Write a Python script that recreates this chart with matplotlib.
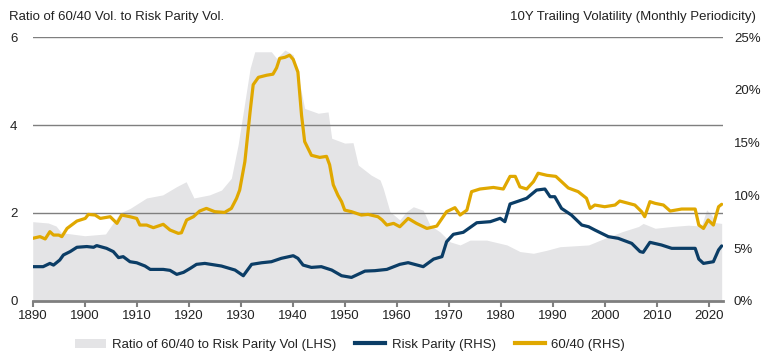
import matplotlib
matplotlib.use("Agg")
import matplotlib.pyplot as plt
from matplotlib.patches import Patch
from matplotlib.lines import Line2D

plt.rcParams["font.family"] = ["Liberation Sans", "DejaVu Sans"]

# Ratio of 60/40 vol to risk parity vol (LHS)
ratio_years = [1890, 1893, 1894.5, 1895.5, 1900, 1904, 1906.8, 1908.7, 1911.9, 1915, 1917.7,
               1919.5, 1921, 1924, 1926.3, 1928.2, 1929.5, 1930.8, 1931.8, 1932.7, 1935.9,
               1936.9, 1938.5, 1940.1, 1941, 1942.3, 1944.9, 1946.8, 1947.5, 1950, 1951.6,
               1952.6, 1955.1, 1956.8, 1957.4, 1958.7, 1960.6, 1961.9, 1963.2, 1965.1, 1966.4,
               1968.3, 1970.3, 1972.2, 1974.1, 1977.3, 1981.2, 1983.7, 1986.3, 1988.9, 1991.4,
               1996.9, 2000, 2003.3, 2006.5, 2007.4, 2009.7, 2012.9, 2016.1, 2018.6, 2019.6,
               2020.6, 2021.3, 2022.5]
ratio_vals = [1.80, 1.77, 1.70, 1.55, 1.48, 1.52, 2.00, 2.10, 2.34, 2.41, 2.60,
              2.71, 2.34, 2.41, 2.52, 2.79, 3.55, 4.53, 5.29, 5.67, 5.67,
              5.52, 5.71, 5.60, 5.14, 4.38, 4.27, 4.30, 3.70, 3.59, 3.60,
              3.09, 2.86, 2.75, 2.56, 2.03, 1.84, 2.03, 2.14, 2.06, 1.72,
              1.57, 1.34, 1.27, 1.38, 1.38, 1.27, 1.12, 1.08, 1.15, 1.23,
              1.27, 1.42, 1.57, 1.69, 1.76, 1.65, 1.69, 1.72, 1.70, 2.07,
              1.95, 1.78, 1.76]

# Risk parity trailing vol (RHS, %)
rp_years = [1890, 1892, 1893.3, 1894, 1895.2, 1895.9, 1897.2, 1898.5, 1900.4, 1901.7, 1902.3,
            1904.2, 1905.5, 1906.5, 1907.4, 1908.7, 1910, 1911.6, 1912.6, 1915.1, 1916.4,
            1917.7, 1919, 1920.3, 1921.5, 1923.1, 1926.3, 1928.9, 1930.5, 1932.1, 1934,
            1935.9, 1937.8, 1940.1, 1941, 1942, 1943.6, 1945.5, 1947.5, 1949.4, 1951.3,
            1953.9, 1955.8, 1958.1, 1960.6, 1962.2, 1965.1, 1967.1, 1968.7, 1969.6, 1970.9,
            1972.8, 1975.4, 1978, 1979.9, 1980.8, 1981.8, 1983.7, 1985, 1986.9, 1988.5,
            1989.5, 1990.4, 1991.7, 1993.6, 1995.6, 1996.9, 1998.1, 2000.7, 2002.6, 2005.2,
            2006.8, 2007.4, 2008.7, 2010.9, 2012.9, 2017.4, 2018.1, 2019, 2020.9, 2021.9, 2022.5]
rp_vals = [3.23, 3.23, 3.54, 3.38, 3.86, 4.34, 4.66, 5.07, 5.14, 5.07, 5.23,
           4.97, 4.66, 4.09, 4.18, 3.70, 3.60, 3.29, 2.97, 2.97, 2.88,
           2.50, 2.69, 3.07, 3.45, 3.54, 3.29, 2.91, 2.37, 3.45, 3.60,
           3.70, 4.02, 4.27, 4.02, 3.38, 3.16, 3.23, 2.91, 2.37, 2.21,
           2.81, 2.85, 2.97, 3.45, 3.61, 3.23, 3.95, 4.18, 5.60, 6.30,
           6.49, 7.40, 7.50, 7.82, 7.50, 9.18, 9.50, 9.72, 10.50, 10.60,
           9.87, 9.87, 8.76, 8.13, 7.18, 7.02, 6.71, 6.08, 5.92, 5.44,
           4.66, 4.59, 5.54, 5.29, 4.97, 4.97, 3.95, 3.54, 3.70, 4.82, 5.20]

# 60/40 trailing vol (RHS, %)
bal_years = [1890, 1891.4, 1892.4, 1893.3, 1894, 1895, 1895.6, 1896.6, 1898.5, 1900.1, 1900.7,
             1902, 1903, 1904.9, 1906.2, 1907.1, 1908.7, 1910, 1910.6, 1911.9, 1913.2,
             1915.1, 1916.4, 1918, 1918.6, 1919.6, 1920.9, 1922.1, 1923.4, 1925, 1926.9,
             1928.2, 1929.2, 1929.8, 1930.8, 1931.8, 1932.4, 1933.4, 1935, 1936.2, 1936.9,
             1937.5, 1938.5, 1939.4, 1940.1, 1941, 1941.7, 1942.3, 1943.6, 1945.2, 1946.5,
             1947.1, 1947.8, 1948.7, 1949.4, 1950, 1951.3, 1953.2, 1954.5, 1956.4, 1957.2,
             1958.1, 1959.4, 1960.6, 1962.2, 1963.8, 1965.8, 1967.7, 1969.6, 1971.2, 1972.2,
             1973.5, 1974.4, 1976, 1978.6, 1980.5, 1981.8, 1982.8, 1983.7, 1985, 1986.3,
             1987.2, 1988.9, 1990.6, 1991.7, 1993, 1994.9, 1996.5, 1997.2, 1998.1, 2000,
             2002, 2002.9, 2005.8, 2007.1, 2007.7, 2008.7, 2009.7, 2011.3, 2012.6, 2014.8,
             2017.4, 2018.1, 2019, 2019.9, 2020.9, 2021.9, 2022.5]
bal_vals = [5.92, 6.08, 5.86, 6.55, 6.23, 6.23, 6.08, 6.86, 7.56, 7.81, 8.19,
            8.13, 7.81, 7.97, 7.34, 8.13, 7.97, 7.81, 7.18, 7.18, 6.93,
            7.25, 6.71, 6.39, 6.45, 7.66, 7.97, 8.51, 8.76, 8.45, 8.38,
            8.76, 9.71, 10.5, 13.2, 17.9, 20.5, 21.2, 21.4, 21.5, 22.1,
            23.0, 23.1, 23.3, 22.9, 21.7, 17.6, 15.1, 13.8, 13.6, 13.7,
            12.9, 11.0, 10.0, 9.4, 8.6, 8.45, 8.13, 8.19, 7.97, 7.66,
            7.18, 7.34, 7.02, 7.81, 7.34, 6.86, 7.08, 8.45, 8.83, 8.13,
            8.60, 10.35, 10.6, 10.75, 10.6, 11.8, 11.8, 10.8, 10.6, 11.3,
            12.1, 11.9, 11.8, 11.3, 10.7, 10.35, 9.72, 8.76, 9.08, 8.92,
            9.08, 9.46, 9.08, 8.45, 7.97, 9.40, 9.24, 9.08, 8.51, 8.70,
            8.70, 7.18, 6.86, 7.66, 7.18, 8.92, 9.15]

decades = list(range(1890, 2021, 10))
grey = "#e4e4e6"
navy = "#0b3d66"
gold = "#e0a800"
line_grey = "#7f7f7f"
fs = 9.5

fig = plt.figure(figsize=(7.7, 3.59), dpi=100)
ax = fig.add_axes([0.0425, 0.1624, 0.8961, 0.7337])
ax2 = ax.twinx()

ax.fill_between(ratio_years, 0, ratio_vals, color=grey, linewidth=0, zorder=1)
for y in [2, 4, 6]:
    ax.axhline(y, color=line_grey, linewidth=1, zorder=2)

ax2.plot(rp_years, rp_vals, color=navy, linewidth=2.3, solid_capstyle="round")
ax2.plot(bal_years, bal_vals, color=gold, linewidth=2.3, solid_capstyle="round")

ax.set_xlim(1890, 2022.7)
ax.set_ylim(0, 6)
ax2.set_ylim(0, 25)
ax.set_xticks(decades)
ax.set_yticks([0, 2, 4, 6])
ax2.set_yticks([0, 5, 10, 15, 20, 25])
ax2.set_yticklabels([f"{v}%" for v in [0, 5, 10, 15, 20, 25]])

for a in (ax, ax2):
    for s in ["top", "left", "right", "bottom"]:
        a.spines[s].set_visible(False)
ax.spines["bottom"].set_visible(True)
ax.spines["bottom"].set_color(line_grey)
ax.spines["bottom"].set_linewidth(2)
ax.spines["bottom"].set_zorder(3)

ax.tick_params(axis="x", length=4, width=1.5, color=line_grey, labelsize=fs,
               labelcolor="#222222", pad=3)
ax.tick_params(axis="y", length=0, labelsize=fs, labelcolor="#222222", pad=11)
ax2.tick_params(axis="y", length=0, labelsize=fs, labelcolor="#222222", pad=8)

fig.text(0.012, 0.953, "Ratio of 60/40 Vol. to Risk Parity Vol.", fontsize=fs,
         color="#222222", va="center", ha="left")
fig.text(0.982, 0.953, "10Y Trailing Volatility (Monthly Periodicity)", fontsize=fs,
         color="#222222", va="center", ha="right")

handles = [Patch(facecolor=grey, edgecolor="none"),
           Line2D([], [], color=navy, linewidth=3),
           Line2D([], [], color=gold, linewidth=3)]
labels = ["Ratio of 60/40 to Risk Parity Vol (LHS)", "Risk Parity (RHS)", "60/40 (RHS)"]
fig.legend(handles, labels, loc="center", bbox_to_anchor=(0.455, 0.04), ncol=3,
           frameon=False, fontsize=fs, handlelength=2.3, handletextpad=0.5,
           columnspacing=1.4, labelcolor="#222222")

fig.savefig("out.png", dpi=100)
